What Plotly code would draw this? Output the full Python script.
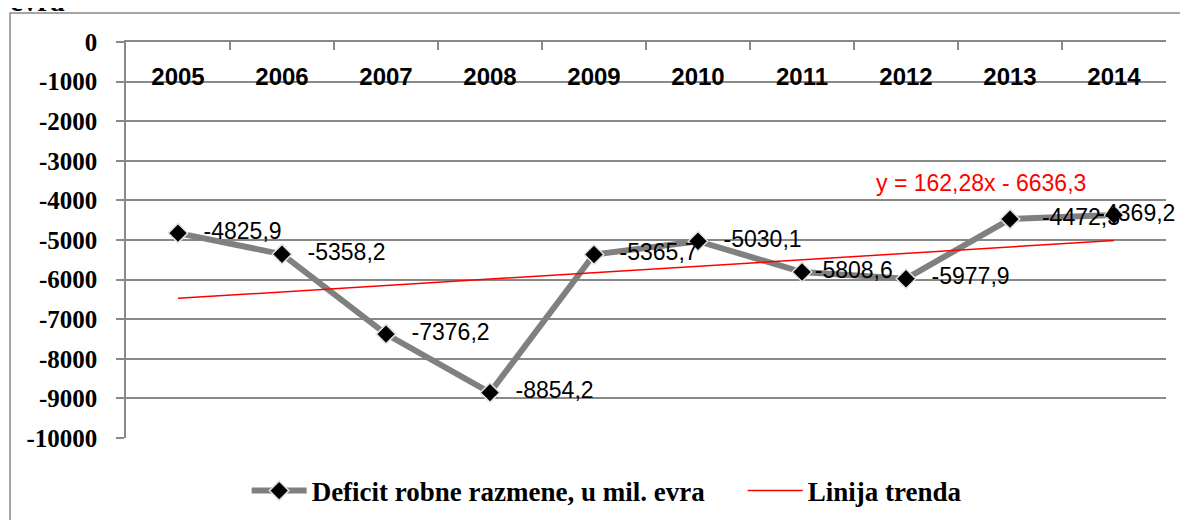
import plotly.graph_objects as go

# ---- data ----
years = ["2005", "2006", "2007", "2008", "2009", "2010", "2011", "2012", "2013", "2014"]
deficit = [-4825.9, -5358.2, -7376.2, -8854.2, -5365.7, -5030.1, -5808.6, -5977.9, -4472.3, -4369.2]
trend_years = ["2005", "2014"]
trend_values = [-6474.0, -5013.5]
y_tick_values = [0, -1000, -2000, -3000, -4000, -5000, -6000, -7000, -8000, -9000, -10000]
y_tick_labels = ["0", "-1000", "-2000", "-3000", "-4000", "-5000", "-6000", "-7000", "-8000", "-9000", "-10000"]
series_name = "Deficit robne razmene, u mil. evra"
trend_name = "Linija trenda"
trend_equation = "y = 162,28x - 6636,3"
header_fragment = "evra"

# ---- style ----
GRAY = "#898989"
SERIF = "Liberation Serif, Times New Roman, serif"
SANS = "Liberation Sans, Arial, sans-serif"
NBSP = "\u00a0"
label_pad = [4, 4, 4, 4, 4, 4, 2, 4, 5, 7]
label_pos = ["middle right"] * 9 + ["middle center"]

labels = [NBSP * p + f"{v:.1f}".replace(".", ",") for p, v in zip(label_pad, deficit)]

fig = go.Figure()

# data labels (drawn beneath the series, like in the reference)
fig.add_trace(go.Scatter(
    x=years, y=deficit, mode="text", text=labels, textposition=label_pos,
    textfont=dict(family=SANS, size=23, color="black"),
    showlegend=False, hoverinfo="skip", cliponaxis=False, xaxis="x2",
))

fig.add_trace(go.Scatter(
    x=years, y=deficit, mode="lines+markers", name=series_name,
    line=dict(color="#808080", width=6),
    marker=dict(symbol="diamond", size=15, color="black",
                line=dict(color="#e2e2e2", width=1.5)),
    cliponaxis=False,
))

fig.add_trace(go.Scatter(
    x=trend_years, y=trend_values, mode="lines", name=trend_name,
    line=dict(color="#ff0000", width=1.5),
))

fig.add_annotation(
    x=7.72, y=-3560, xref="x", yref="y", text=trend_equation, showarrow=False,
    font=dict(family=SANS, size=23, color="#ff0000"),
)

fig.add_annotation(
    x=-0.1135, y=1.058, xref="paper", yref="paper", xanchor="left", yanchor="bottom",
    text=header_fragment, showarrow=False,
    font=dict(family=SERIF, size=29, color="black", weight="bold"),
)

fig.add_shape(
    type="rect", xref="paper", yref="paper", x0=-0.1115, x1=1.3, y0=-0.4, y1=1.0732,
    line=dict(color=GRAY, width=1.5), layer="below",
)

fig.update_layout(
    width=1188, height=520,
    margin=dict(l=118, r=30, t=34, b=90, autoexpand=False),
    paper_bgcolor="white", plot_bgcolor="white",
    showlegend=True,
    legend=dict(
        orientation="h", x=0.116, xanchor="left", y=-0.134, yanchor="middle",
        font=dict(family=SERIF, size=27, color="black", weight="bold"),
        itemwidth=55, entrywidth=426, bgcolor="rgba(0,0,0,0)",
    ),
    xaxis=dict(
        type="category", categoryarray=years, side="top", showline=True,
        linecolor=GRAY, linewidth=1.5,
        ticks="inside", tickson="boundaries", ticklen=8, tickcolor=GRAY, tickwidth=1.5,
        showticklabels=False, automargin=False,
        showgrid=False, zeroline=False, range=[-0.5, 9.5],
    ),
    xaxis2=dict(
        type="category", categoryarray=years, overlaying="x", side="bottom",
        anchor="free", position=0.9545, range=[-0.5, 9.5],
        showline=False, ticks="", showgrid=False, zeroline=False, automargin=False,
        tickfont=dict(family=SANS, size=24, color="black", weight="bold"),
    ),
    yaxis=dict(
        range=[-10000, 0], tickvals=y_tick_values, ticktext=y_tick_labels,
        showline=True, linecolor=GRAY, linewidth=1.5,
        ticks="outside", ticklen=8, tickcolor=GRAY, tickwidth=1.5,
        showgrid=True, gridcolor=GRAY, gridwidth=1.5, zeroline=False,
        tickfont=dict(family=SERIF, size=25, color="black", weight="bold"),
        ticklabelstandoff=14, automargin=False,
    ),
)

fig.write_html("out.html")
